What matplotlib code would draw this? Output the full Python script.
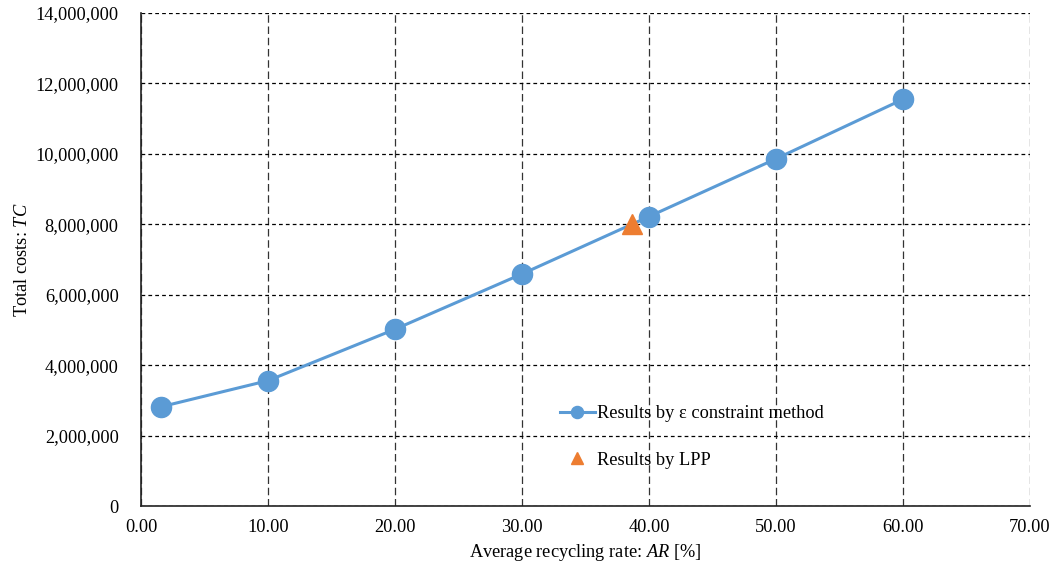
#!/usr/bin/env python3
# -*- coding: utf-8 -*-

import matplotlib
matplotlib.use('Agg')
import matplotlib.pyplot as plt
from matplotlib.ticker import FuncFormatter, MultipleLocator

plt.rcParams['font.family'] = ['Liberation Serif', 'DejaVu Serif']
plt.rcParams['mathtext.fontset'] = 'custom'
plt.rcParams['mathtext.rm'] = 'Liberation Serif'
plt.rcParams['mathtext.it'] = 'Liberation Serif:italic'

# Data
ar_eps = [1.6, 10.0, 20.0, 30.0, 40.0, 50.0, 60.0]
tc_eps = [2820000, 3560000, 5020000, 6590000, 8220000, 9860000, 11550000]

ar_lpp = [38.7]
tc_lpp = [8000000]

blue = '#5B9BD5'
orange = '#ED7D31'
fs = 13.2

fig = plt.figure(figsize=(10.55, 5.71), dpi=100)
ax = fig.add_axes([0.1336, 0.1138, 0.8427, 0.8634])

ax.plot(ar_eps, tc_eps, color=blue, lw=2.2, marker='o', ms=14.5,
        label='Results by \u03b5 constraint method', zorder=3)
ax.plot(ar_lpp, tc_lpp, ls='none', color=orange, marker='^', ms=14,
        label='Results by LPP', zorder=4)

ax.set_xlim(0, 70)
ax.set_ylim(0, 14000000)
ax.xaxis.set_major_locator(MultipleLocator(10))
ax.yaxis.set_major_locator(MultipleLocator(2000000))
ax.xaxis.set_major_formatter(FuncFormatter(lambda v, p: '%.2f' % v))
ax.yaxis.set_major_formatter(FuncFormatter(lambda v, p: '{:,.0f}'.format(v)))
ax.tick_params(length=0, labelsize=fs, colors='black')
ax.tick_params(axis='y', pad=16)
ax.tick_params(axis='x', pad=9)

# gridlines: horizontal short dashes, vertical longer dashes
ax.grid(axis='y', color='black', lw=0.9, ls=(0, (3, 2.5)))
ax.grid(axis='x', color='#333333', lw=0.9, ls=(0, (6, 3)))
ax.set_axisbelow(True)

for s in ['top', 'right']:
    ax.spines[s].set_visible(False)
for s in ['left', 'bottom']:
    ax.spines[s].set_color('#222222')
    ax.spines[s].set_linewidth(1.2)

ax.set_xlabel('Average recycling rate: $\\mathit{AR}$ [%]', fontsize=fs, labelpad=5)
ax.set_ylabel('Total costs: $\\mathit{TC}$', fontsize=fs, labelpad=3)

ax.legend(loc='upper left', bbox_to_anchor=(0.463, 0.219), frameon=False,
          fontsize=fs, markerscale=0.6, handlelength=1.9, handletextpad=0.1,
          labelspacing=1.59, borderaxespad=0)

fig.savefig('out.png', dpi=100)
